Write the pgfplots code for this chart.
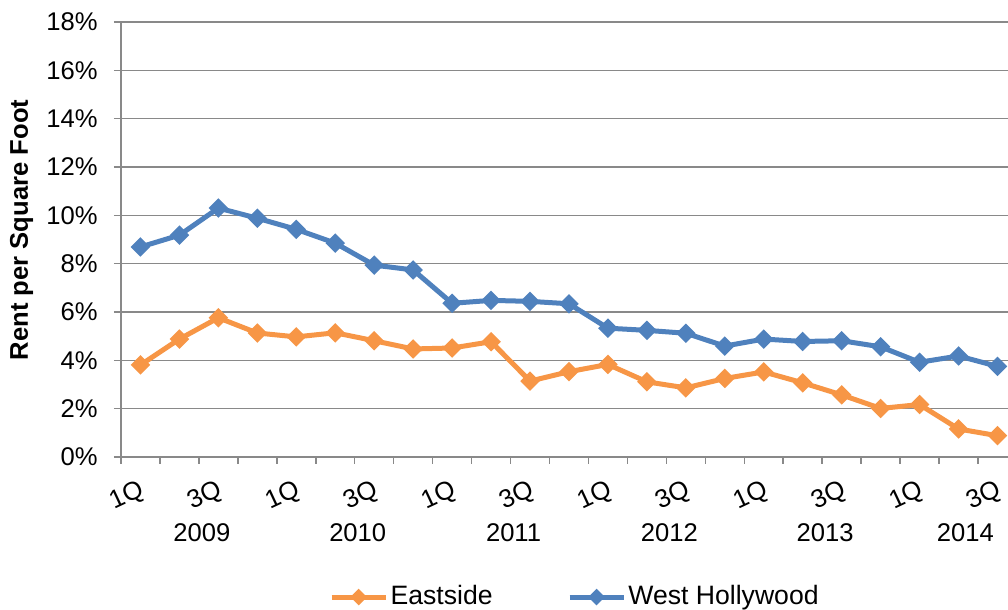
\documentclass[border=0pt]{standalone}
\usepackage{fontspec}
\setmainfont{Liberation Sans}
\usepackage{pgfplots}
\pgfplotsset{compat=1.18}
\definecolor{east}{HTML}{F79646}
\definecolor{weho}{HTML}{4F81BD}
\definecolor{gridc}{HTML}{898989}

\begin{document}
\fontsize{12.8}{15}\selectfont
\begin{tikzpicture}
\useasboundingbox (0,0) rectangle (504pt,305pt);
\begin{axis}[at={(60.5pt,76.5pt)}, anchor=south west,
  scale only axis, width=443.5pt, height=217.5pt,
  clip=false,
  xmin=-0.5, xmax=22.27, ymin=0, ymax=18,
  axis x line*=bottom, axis y line*=left,
  axis line style={-, gridc, line width=0.75pt},
  tick style={gridc, line width=0.75pt},
  tick align=outside, major tick length=3.5pt,
  xtick={-0.5,0.5,...,21.5}, xticklabels={},
  extra x ticks={0,2,...,22},
  extra x tick labels={1Q,3Q,1Q,3Q,1Q,3Q,1Q,3Q,1Q,3Q,1Q,3Q},
  extra x tick style={major tick length=0pt,
    tick label style={inner sep=0pt, xshift=1.5pt, yshift=-16pt, rotate=25, anchor=east}},
  ytick={0,2,...,18},
  yticklabels={0\%,2\%,4\%,6\%,8\%,10\%,12\%,14\%,16\%,18\%},
  yticklabel style={inner sep=0pt, xshift=-8pt},
  ymajorgrids, grid style={gridc, line width=0.75pt},
  ylabel={\bfseries Rent per Square Foot},
  ylabel style={at={(axis description cs:-0.112,0.522)}, anchor=center},
  legend columns=2,
  legend style={at={(0.512,-0.322)}, anchor=center, draw=none,
    font=\fontsize{13.3}{15}\selectfont,
    nodes={inner sep=1.2pt},
    /tikz/every even column/.append style={column sep=36pt}},
  legend image code/.code={\draw[mark repeat=2, mark phase=2, #1, mark size=1.7pt]
    plot coordinates {(0pt,0pt) (13.5pt,0pt) (27pt,0pt)};},
  every axis plot/.append style={line width=2.5pt,
    mark=square*, mark size=2.2pt, mark options={rotate=45, solid}},
]
\addplot[color=east] coordinates {
  (0,3.81) (1,4.88) (2,5.76) (3,5.13) (4,4.97) (5,5.14) (6,4.81) (7,4.47)
  (8,4.51) (9,4.77) (10,3.14) (11,3.53) (12,3.83) (13,3.11) (14,2.86)
  (15,3.25) (16,3.52) (17,3.07) (18,2.57) (19,2.01) (20,2.17) (21,1.16) (22,0.88)
};
\addlegendentry{Eastside}
\addplot[color=weho] coordinates {
  (0,8.69) (1,9.18) (2,10.30) (3,9.88) (4,9.42) (5,8.85) (6,7.94) (7,7.74)
  (8,6.36) (9,6.48) (10,6.44) (11,6.34) (12,5.33) (13,5.24) (14,5.12)
  (15,4.59) (16,4.88) (17,4.78) (18,4.81) (19,4.56) (20,3.92) (21,4.18) (22,3.75)
};
\addlegendentry{West Hollywood}
\node at (axis cs:1.5,0) [xshift=1.5pt, yshift=-38pt] {2009};
\node at (axis cs:5.5,0) [xshift=1.5pt, yshift=-38pt] {2010};
\node at (axis cs:9.5,0) [xshift=1.5pt, yshift=-38pt] {2011};
\node at (axis cs:13.5,0) [xshift=1.5pt, yshift=-38pt] {2012};
\node at (axis cs:17.5,0) [xshift=1.5pt, yshift=-38pt] {2013};
\node at (axis cs:21.1,0) [xshift=1.5pt, yshift=-38pt] {2014};
\end{axis}
\end{tikzpicture}
\end{document}
